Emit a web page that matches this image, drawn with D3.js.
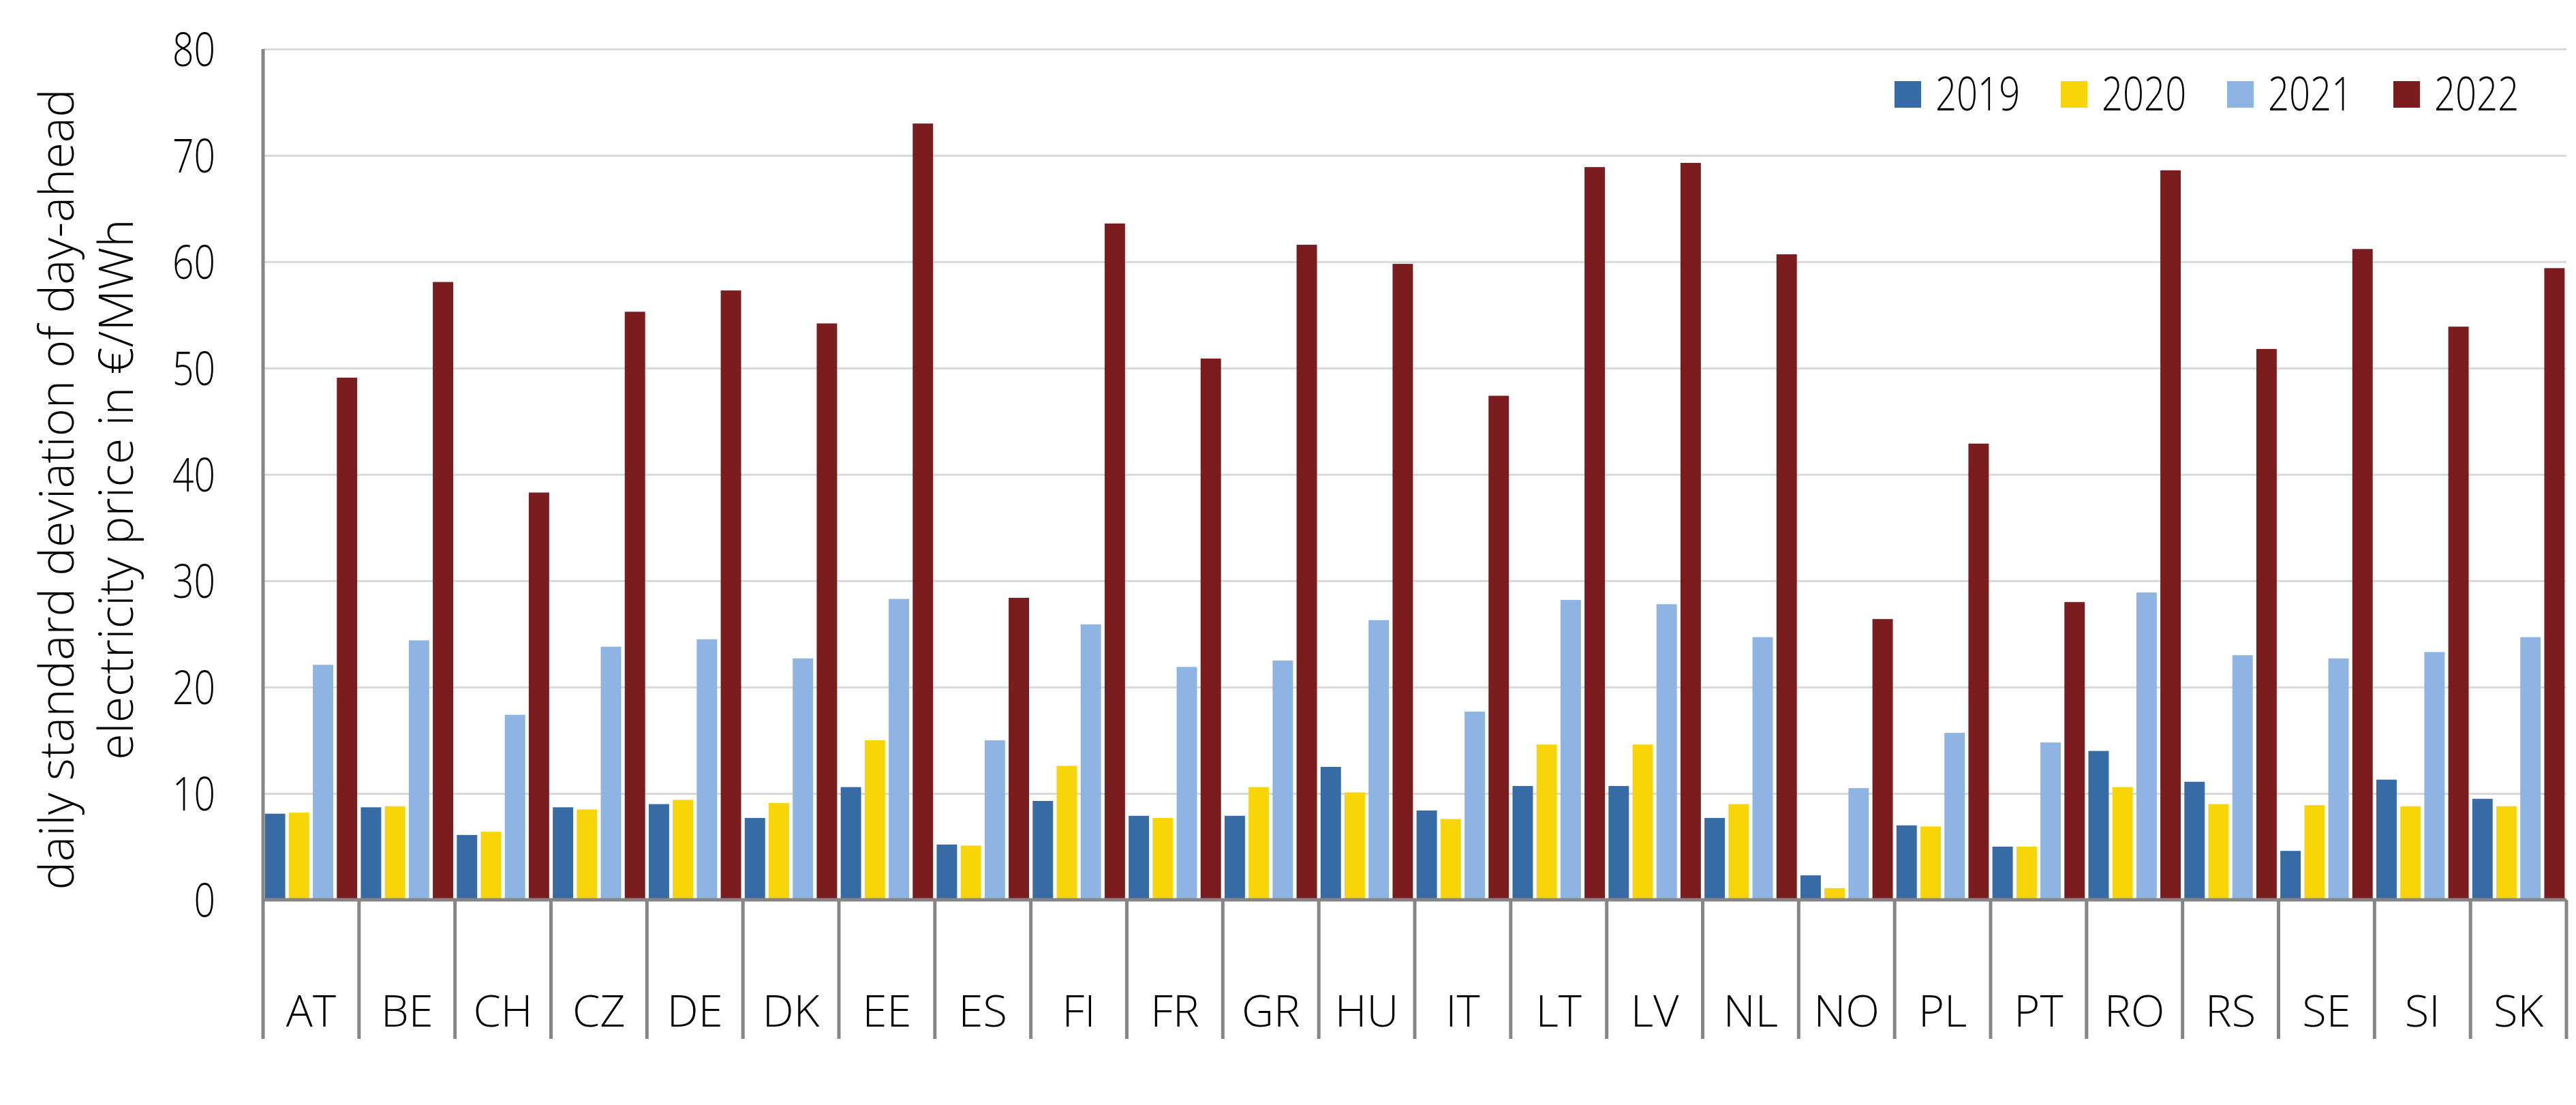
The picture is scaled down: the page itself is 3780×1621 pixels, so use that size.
<!DOCTYPE html>
<html>
<head>
<meta charset="utf-8">
<script src="https://cdn.jsdelivr.net/npm/d3@7"></script>
<style>
  body { margin: 0; background: #fff; }
  text { font-family: "Open Sans", "Noto Sans", sans-serif; font-weight: 300; fill: #000; }
</style>
</head>
<body>
<svg id="chart"></svg>
<script>
const width = 3780, height = 1621;

// Countries on the category axis
const countries = ["AT","BE","CH","CZ","DE","DK","EE","ES","FI","FR","GR","HU",
                   "IT","LT","LV","NL","NO","PL","PT","RO","RS","SE","SI","SK"];
const years = ["2019","2020","2021","2022"];

// daily standard deviation of day-ahead price, €/MWh
const v2019 = [8.1, 8.7, 6.1, 8.7, 9.0, 7.7, 10.6, 5.2, 9.3, 7.9, 7.9, 12.5,
               8.4, 10.7, 10.7, 7.7, 2.3, 7.0, 5.0, 14.0, 11.1, 4.6, 11.3, 9.5];
const v2020 = [8.2, 8.8, 6.4, 8.5, 9.4, 9.1, 15.0, 5.1, 12.6, 7.7, 10.6, 10.1,
               7.6, 14.6, 14.6, 9.0, 1.1, 6.9, 5.0, 10.6, 9.0, 8.9, 8.8, 8.8];
const v2021 = [22.1, 24.4, 17.4, 23.8, 24.5, 22.7, 28.3, 15.0, 25.9, 21.9, 22.5, 26.3,
               17.7, 28.2, 27.8, 24.7, 10.5, 15.7, 14.8, 28.9, 23.0, 22.7, 23.3, 24.7];
const v2022 = [49.1, 58.1, 38.3, 55.3, 57.3, 54.2, 73.0, 28.4, 63.6, 50.9, 61.6, 59.8,
               47.4, 68.9, 69.3, 60.7, 26.4, 42.9, 28.0, 68.6, 51.8, 61.2, 53.9, 59.4];
const series = [v2019, v2020, v2021, v2022];
const yTicks = [0, 10, 20, 30, 40, 50, 60, 70, 80];

const colors = ["#376ba5", "#f7d508", "#8db4e2", "#7b1c1e"];
const axisGrey = "#868686";

const plotLeft = 386, plotRight = 3766, plotTop = 72, plotBottom = 1320, sepBottom = 1524;

const svg = d3.select("#chart")
  .attr("width", width)
  .attr("height", height);

const y = d3.scaleLinear().domain([0, 80]).range([plotBottom, plotTop]);
const x0 = d3.scaleBand().domain(countries).range([plotLeft, plotRight]);
const x1 = d3.scaleBand().domain(years).range([0, x0.bandwidth()])
  .paddingInner(0.15).paddingOuter(0.075);
const color = d3.scaleOrdinal().domain(years).range(colors);

// Horizontal gridlines and tick labels
const yAxis = svg.append("g")
  .attr("transform", `translate(${plotLeft},0)`)
  .call(d3.axisLeft(y).tickValues(yTicks).tickSize(-(plotRight - plotLeft)).tickSizeOuter(0));
yAxis.select(".domain").remove();
yAxis.selectAll(".tick line")
  .attr("stroke", "#d9d9d9")
  .attr("stroke-width", 3)
  .filter(d => d === 0).remove();
yAxis.selectAll(".tick text")
  .attr("font-size", 69)
  .attr("font-family", "Open Sans")
  .attr("font-weight", 300)
  .attr("fill", "#000")
  .attr("x", -70 / 0.8)
  .attr("dy", "0.36em")
  .attr("transform", "scale(0.8,1)");

// Bars
const groups = svg.append("g")
  .selectAll("g")
  .data(countries)
  .join("g")
  .attr("transform", d => `translate(${x0(d)},0)`);

groups.selectAll("rect")
  .data((c, i) => years.map((yr, k) => ({ year: yr, value: series[k][i] })))
  .join("rect")
  .attr("x", d => x1(d.year))
  .attr("y", d => y(d.value))
  .attr("width", x1.bandwidth())
  .attr("height", d => y(0) - y(d.value))
  .attr("fill", d => color(d.year));

// Category axis: baseline, separators, labels
svg.append("line")
  .attr("x1", plotLeft).attr("x2", plotRight)
  .attr("y1", plotBottom).attr("y2", plotBottom)
  .attr("stroke", axisGrey).attr("stroke-width", 5);

svg.append("line")
  .attr("x1", plotLeft).attr("x2", plotLeft)
  .attr("y1", plotTop).attr("y2", sepBottom)
  .attr("stroke", axisGrey).attr("stroke-width", 5);

svg.append("g")
  .selectAll("line")
  .data(countries.slice(1).concat(["end"]))
  .join("line")
  .attr("x1", d => d === "end" ? plotRight : x0(d))
  .attr("x2", d => d === "end" ? plotRight : x0(d))
  .attr("y1", plotBottom).attr("y2", sepBottom)
  .attr("stroke", axisGrey).attr("stroke-width", 5);

svg.append("g")
  .selectAll("text")
  .data(countries)
  .join("text")
  .attr("x", d => x0(d) + x0.bandwidth() / 2)
  .attr("y", 1506)
  .attr("text-anchor", "middle")
  .attr("font-size", 65)
  .text(d => d);

// Y axis title, two lines
const title = svg.append("text")
  .attr("transform", "translate(108,718) rotate(-90)")
  .attr("text-anchor", "middle")
  .attr("font-size", 70);
title.append("tspan").attr("x", 0).attr("y", 0).text("daily standard deviation of day-ahead");
title.append("tspan").attr("x", 0).attr("y", 87).text("electricity price in €/MWh");

// Legend
const legend = svg.append("g")
  .selectAll("g")
  .data(years)
  .join("g")
  .attr("transform", (d, i) => `translate(${2780 + i * 244},119)`);
legend.append("rect")
  .attr("width", 39).attr("height", 39)
  .attr("fill", d => color(d));
legend.append("text")
  .attr("transform", "translate(60,19) scale(0.8,1)")
  .attr("dy", "0.36em")
  .attr("font-size", 68)
  .text(d => d);
</script>
</body>
</html>
